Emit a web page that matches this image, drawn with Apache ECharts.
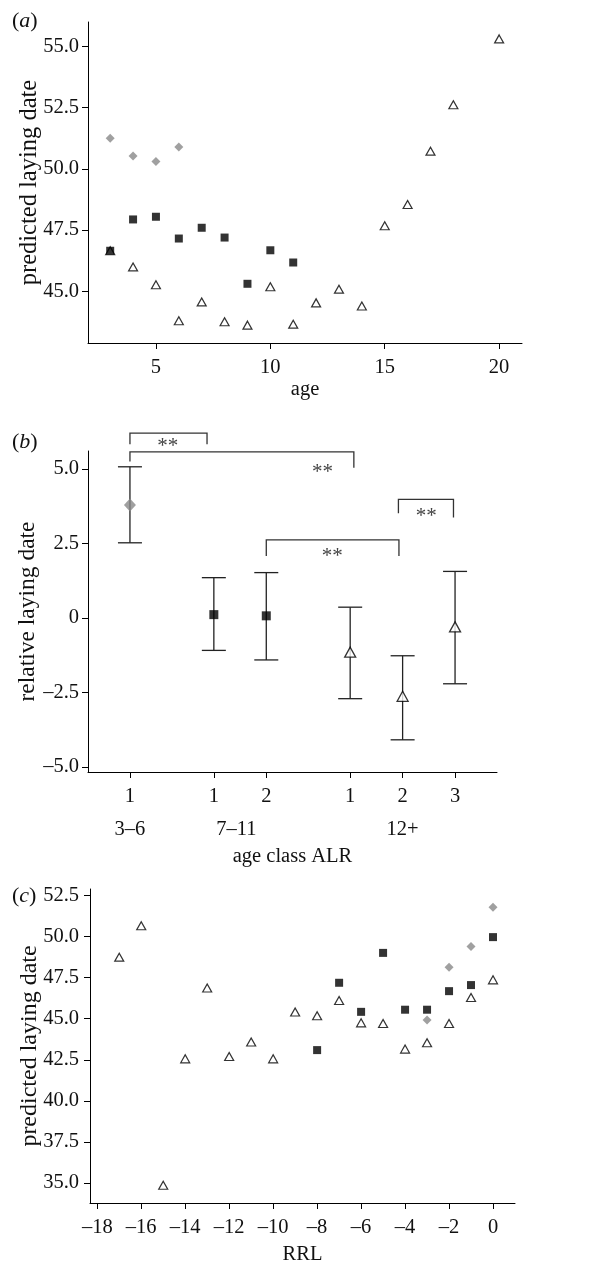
<!DOCTYPE html>
<html>
<head>
<meta charset="utf-8">
<script src="https://cdn.jsdelivr.net/npm/echarts@6/dist/echarts.min.js"></script>
<style>
html,body{margin:0;padding:0;background:#fff;}
#chart{width:606px;height:1265px;}
</style>
</head>
<body>
<div id="chart"></div>
<script>
// ---------- Panel (a): predicted laying date vs age ----------
var aDiamondAge = [3, 4, 5, 6];
var aDiamondVal = [51.25, 50.52, 50.30, 50.89];
var aSquareAge = [3, 4, 5, 6, 7, 8, 9, 10, 11];
var aSquareVal = [46.65, 47.93, 48.04, 47.15, 47.59, 47.19, 45.30, 46.67, 46.17];
var aTriAge = [3, 4, 5, 6, 7, 8, 9, 10, 11, 12, 13, 14, 15, 16, 17, 18, 20];
var aTriVal = [46.65, 45.99, 45.26, 43.79, 44.56, 43.75, 43.61, 45.18, 43.65, 44.52, 45.08, 44.39, 47.67, 48.54, 50.72, 52.62, 55.31];
var aXTicks = [5, 10, 15, 20];
var aYTicks = [45, 47.5, 50, 52.5, 55];

// ---------- Panel (b): relative laying date by age class / ALR ----------
var bPos = [1, 2.6, 3.6, 5.2, 6.2, 7.2];
var bALR = ['1', '1', '2', '1', '2', '3'];
var bMean = [3.79, 0.11, 0.07, -1.15, -2.63, -0.30];
var bUpper = [5.07, 1.35, 1.52, 0.36, -1.27, 1.56];
var bLower = [2.52, -1.09, -1.41, -2.71, -4.09, -2.21];
var bShape = ['diamond', 'square', 'square', 'triangle', 'triangle', 'triangle'];
var bGroupPos = [1, 3.03, 6.2];
var bGroupLabel = ['3\u20136', '7\u201311', '12+'];
var bYTicks = [-5, -2.5, 0, 2.5, 5];
// brackets: [xLeft, xRight, yTop, yLeftEnd, yRightEnd]
var bBrackets = [
  [1, 2.47, 6.20, 5.83, 5.83],
  [1, 5.27, 5.57, 5.245, 5.04],
  [3.6, 6.13, 2.62, 2.08, 2.08],
  [6.12, 7.17, 3.98, 3.51, 3.37]
];
var bStarX = [1.72, 4.67, 4.86, 6.65];
var bStarY = [5.88, 5.02, 2.20, 3.53];
var bStarText = ['**', '**', '**', '**'];

// ---------- Panel (c): predicted laying date vs RRL ----------
var cTriRRL = [-17, -16, -15, -14, -13, -12, -11, -10, -9, -8, -7, -6, -5, -4, -3, -2, -1, 0];
var cTriVal = [48.75, 50.66, 34.86, 42.56, 46.87, 42.70, 43.58, 42.56, 45.41, 45.18, 46.11, 44.75, 44.71, 43.15, 43.54, 44.71, 46.29, 47.37];
var cSquareRRL = [-8, -7, -6, -5, -4, -3, -2, -1, 0];
var cSquareVal = [43.09, 47.19, 45.42, 49.01, 45.55, 45.55, 46.68, 47.05, 49.97];
var cDiamondRRL = [-3, -2, -1, 0];
var cDiamondVal = [44.92, 48.14, 49.40, 51.79];
var cXTicks = [-18, -16, -14, -12, -10, -8, -6, -4, -2, 0];
var cYTicks = [35, 37.5, 40, 42.5, 45, 47.5, 50, 52.5];

// ---------- helpers ----------
var FONT = 'Liberation Serif';
var TXT = '#111';
var GREY = '#888888';
function pairs(xs, ys) { return xs.map(function (x, i) { return [x, ys[i]]; }); }
function dash(v) { return String(v).replace('-', '\u2013'); }
function fix1(v) { return dash(v === 0 ? '0' : v.toFixed(1)); }

function valAxis(o) {
  var ax = {
    type: 'value', gridIndex: o.grid, min: o.min, max: o.max,
    position: o.position,
    splitLine: { show: false },
    axisLine: { show: true, onZero: false, lineStyle: { color: '#000', width: 1 } },
    axisTick: { show: true, length: 6, customValues: o.ticks, lineStyle: { color: '#000', width: 1 } },
    axisLabel: { customValues: o.ticks, formatter: o.fmt, margin: o.margin, fontFamily: FONT, fontSize: 20.5, color: TXT, hideOverlap: false },
    name: o.name, nameLocation: 'middle', nameGap: o.nameGap, nameMoveOverlap: false,
    nameTextStyle: { fontFamily: FONT, fontSize: o.nameSize || 20.5, color: TXT, verticalAlign: 'middle' }
  };
  if (o.rotate) ax.nameRotate = 90;
  return ax;
}

var option = {
  backgroundColor: '#fff',
  animation: false,
  grid: [
    { left: 88, top: 22, width: 434, height: 321, outerBoundsMode: 'none', containLabel: false },
    { left: 88, top: 451, width: 409, height: 321, outerBoundsMode: 'none', containLabel: false },
    { left: 90, top: 889, width: 425, height: 314, outerBoundsMode: 'none', containLabel: false }
  ],
  xAxis: [
    valAxis({ grid: 0, min: 2.03, max: 21, ticks: aXTicks, fmt: function (v) { return String(v); }, margin: 14, name: 'age', nameGap: 47, position: 'bottom' }),
    valAxis({ grid: 1, min: 0.2, max: 8, ticks: bPos, fmt: function (v) { var i = bPos.indexOf(v); return i >= 0 ? bALR[i] : ''; }, margin: 14, name: 'age class ALR', nameGap: 85, position: 'bottom' }),
    {
      type: 'value', gridIndex: 1, min: 0.2, max: 8, position: 'bottom',
      axisLine: { show: false }, axisTick: { show: false }, splitLine: { show: false },
      axisLabel: { customValues: bGroupPos, formatter: function (v) { var i = bGroupPos.indexOf(v); return i >= 0 ? bGroupLabel[i] : ''; }, margin: 47, fontFamily: FONT, fontSize: 20.5, color: TXT }
    },
    valAxis({ grid: 2, min: -18.33, max: 1, ticks: cXTicks, fmt: function (v) { return dash(v); }, margin: 14, name: 'RRL', nameGap: 52, position: 'bottom' })
  ],
  yAxis: [
    valAxis({ grid: 0, min: 42.88, max: 56, ticks: aYTicks, fmt: fix1, margin: 9, name: 'predicted laying date', nameGap: 58, rotate: true, nameSize: 24.5 }),
    valAxis({ grid: 1, min: -5.17, max: 5.6, ticks: bYTicks, fmt: fix1, margin: 9, name: 'relative laying date', nameGap: 60, rotate: true, nameSize: 23.5 }),
    valAxis({ grid: 2, min: 33.78, max: 52.9, ticks: cYTicks, fmt: fix1, margin: 11, name: 'predicted laying date', nameGap: 60, rotate: true, nameSize: 24 })
  ],
  graphic: [
    { type: 'text', left: 12, top: 10, style: { text: '{p|(}{i|a}{p|)}', rich: { p: { fontFamily: FONT, fontSize: 22, fill: TXT }, i: { fontFamily: FONT, fontSize: 22, fontStyle: 'italic', fill: TXT } } } },
    { type: 'text', left: 12, top: 431, style: { text: '{p|(}{i|b}{p|)}', rich: { p: { fontFamily: FONT, fontSize: 22, fill: TXT }, i: { fontFamily: FONT, fontSize: 22, fontStyle: 'italic', fill: TXT } } } },
    { type: 'text', left: 12, top: 885, style: { text: '{p|(}{i|c}{p|)}', rich: { p: { fontFamily: FONT, fontSize: 22, fill: TXT }, i: { fontFamily: FONT, fontSize: 22, fontStyle: 'italic', fill: TXT } } } }
  ],
  series: []
};

// Panel (a)
option.series.push(
  { type: 'scatter', xAxisIndex: 0, yAxisIndex: 0, symbol: 'triangle', symbolSize: [9, 8], data: pairs(aTriAge, aTriVal), itemStyle: { color: '#fff', borderColor: '#000', borderWidth: 1.2 }, z: 2 },
  { type: 'scatter', xAxisIndex: 0, yAxisIndex: 0, symbol: 'rect', symbolSize: 8, data: pairs(aSquareAge, aSquareVal), itemStyle: { color: '#000' }, z: 3 },
  { type: 'scatter', xAxisIndex: 0, yAxisIndex: 0, symbol: 'diamond', symbolSize: [9, 9], data: pairs(aDiamondAge, aDiamondVal), itemStyle: { color: GREY }, z: 3 }
);

// Panel (b) error bars
option.series.push({
  type: 'custom', xAxisIndex: 1, yAxisIndex: 1, z: 2,
  data: bPos.map(function (p, i) { return [p, bLower[i], bUpper[i]]; }),
  encode: { x: 0, y: [1, 2] },
  renderItem: function (params, api) {
    var lo = api.coord([api.value(0), api.value(1)]);
    var hi = api.coord([api.value(0), api.value(2)]);
    var w = 12;
    var st = { stroke: '#222', lineWidth: 1.3 };
    return { type: 'group', children: [
      { type: 'line', shape: { x1: lo[0], y1: lo[1], x2: hi[0], y2: hi[1] }, style: st },
      { type: 'line', shape: { x1: lo[0] - w, y1: lo[1], x2: lo[0] + w, y2: lo[1] }, style: st },
      { type: 'line', shape: { x1: hi[0] - w, y1: hi[1], x2: hi[0] + w, y2: hi[1] }, style: st }
    ] };
  }
});
// Panel (b) means
['diamond', 'square', 'triangle'].forEach(function (shape) {
  var d = [];
  bPos.forEach(function (p, i) { if (bShape[i] === shape) d.push([p, bMean[i]]); });
  var s = { type: 'scatter', xAxisIndex: 1, yAxisIndex: 1, data: d, z: 4 };
  if (shape === 'diamond') { s.symbol = 'diamond'; s.symbolSize = [12, 13]; s.itemStyle = { color: GREY }; }
  if (shape === 'square') { s.symbol = 'rect'; s.symbolSize = 9; s.itemStyle = { color: '#000' }; }
  if (shape === 'triangle') { s.symbol = 'triangle'; s.symbolSize = [11, 10]; s.itemStyle = { color: '#fff', borderColor: '#000', borderWidth: 1.3 }; }
  option.series.push(s);
});
// Panel (b) significance brackets
option.series.push({
  type: 'custom', xAxisIndex: 1, yAxisIndex: 1, z: 5, clip: false,
  data: bBrackets,
  encode: { x: [0, 1], y: [2, 3, 4] },
  renderItem: function (params, api) {
    var pTL = api.coord([api.value(0), api.value(2)]);
    var pTR = api.coord([api.value(1), api.value(2)]);
    var pBL = api.coord([api.value(0), api.value(3)]);
    var pBR = api.coord([api.value(1), api.value(4)]);
    return { type: 'polyline', shape: { points: [pBL, pTL, pTR, pBR] }, style: { stroke: '#333', lineWidth: 1.3, fill: null } };
  }
});
option.series.push({
  type: 'custom', xAxisIndex: 1, yAxisIndex: 1, z: 5, clip: false,
  data: bStarX.map(function (x, i) { return [x, bStarY[i], i]; }),
  encode: { x: 0, y: 1 },
  renderItem: function (params, api) {
    var p = api.coord([api.value(0), api.value(1)]);
    return { type: 'text', x: p[0], y: p[1] + 4, style: { text: bStarText[api.value(2)], fontFamily: FONT, fontSize: 21, fill: '#444', align: 'center', verticalAlign: 'middle' } };
  }
});

// Panel (c)
option.series.push(
  { type: 'scatter', xAxisIndex: 3, yAxisIndex: 2, symbol: 'triangle', symbolSize: [9, 8], data: pairs(cTriRRL, cTriVal), itemStyle: { color: '#fff', borderColor: '#000', borderWidth: 1.2 }, z: 2 },
  { type: 'scatter', xAxisIndex: 3, yAxisIndex: 2, symbol: 'rect', symbolSize: 8, data: pairs(cSquareRRL, cSquareVal), itemStyle: { color: '#000' }, z: 3 },
  { type: 'scatter', xAxisIndex: 3, yAxisIndex: 2, symbol: 'diamond', symbolSize: [9, 9], data: pairs(cDiamondRRL, cDiamondVal), itemStyle: { color: GREY }, z: 3 }
);

var chart = echarts.init(document.getElementById('chart'), null, { renderer: 'canvas' });
chart.setOption(option);
</script>
</body>
</html>
